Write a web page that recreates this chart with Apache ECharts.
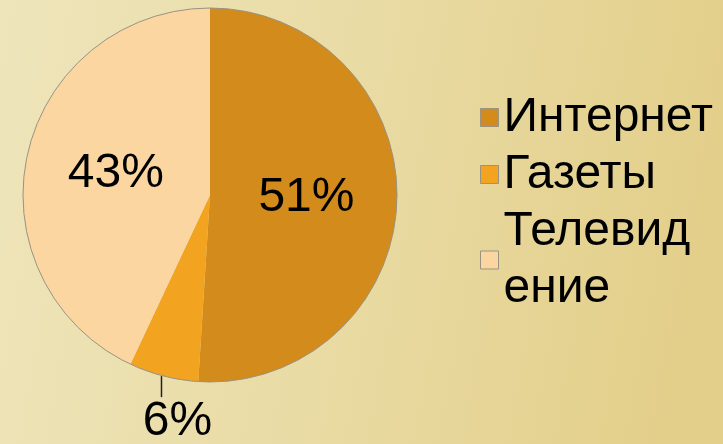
<!DOCTYPE html>
<html>
<head>
<meta charset="utf-8">
<style>
  html, body { margin: 0; padding: 0; }
  #chart { width: 723px; height: 444px; }
</style>
<script src="https://cdn.jsdelivr.net/npm/echarts@6/dist/echarts.min.js"></script>
</head>
<body>
<div id="chart"></div>
<script>
var categories = ['Интернет', 'Газеты', 'Телевидение'];
var shares = [51, 6, 43];
// legend text as wrapped in the original slide
var legendText = ['Интернет', 'Газеты', 'Телевид\nение'];
var colors = ['#d38b1c', '#f2a31f', '#fcd6a1'];

var chart = echarts.init(document.getElementById('chart'), null, { renderer: 'canvas' });

var font = '"Liberation Sans", Arial, sans-serif';

chart.setOption({
  backgroundColor: new echarts.graphic.LinearGradient(0, 0, 1, 0.3, [
    { offset: 0, color: '#eee5bb' },
    { offset: 0.5, color: '#e9dba4' },
    { offset: 1, color: '#e3cf8a' }
  ]),
  animation: false,
  legend: {
    orient: 'vertical',
    left: 475,
    top: 84,
    itemWidth: 18,
    itemHeight: 18,
    itemGap: 0,
    icon: 'rect',
    itemStyle: { borderColor: '#9a9382', borderWidth: 1 },
    formatter: function (name) {
      return legendText[categories.indexOf(name)];
    },
    textStyle: {
      fontFamily: font,
      fontSize: 48,
      lineHeight: 57,
      color: '#000'
    },
    data: categories
  },
  series: [{
    type: 'pie',
    center: [210, 195],
    radius: 187,
    startAngle: 90,
    clockwise: true,
    label: {
      position: 'inside',
      formatter: '{c}%',
      fontFamily: font,
      fontSize: 48,
      color: '#000'
    },
    itemStyle: { borderWidth: 0 },
    labelLayout: function (p) {
      if (p.dataIndex !== 1 || !p.labelLinePoints) return {};
      var s = p.labelLinePoints[0];
      return {
        x: s[0] + 14,
        y: s[1] + 46,
        align: 'center',
        verticalAlign: 'middle',
        labelLinePoints: [[s[0] - 2, s[1]], [s[0] - 2, s[1] + 21], [s[0] - 2, s[1] + 21]]
      };
    },
    data: categories.map(function (name, i) {
      var d = {
        name: name,
        value: shares[i],
        itemStyle: { color: colors[i] }
      };
      if (i === 1) {
        d.label = { position: 'outside' };
        d.labelLine = {
          show: true,
          length: 21,
          length2: 0,
          lineStyle: { color: '#222', width: 1.5 }
        };
      }
      return d;
    })
  }, {
    // thin grey outline round the pie
    type: 'pie',
    center: [210, 195],
    radius: 187,
    silent: true,
    label: { show: false },
    labelLine: { show: false },
    itemStyle: { color: 'transparent', borderColor: '#9a9382', borderWidth: 1 },
    data: [{ name: 'outline', value: 1 }]
  }]
});
</script>
</body>
</html>
